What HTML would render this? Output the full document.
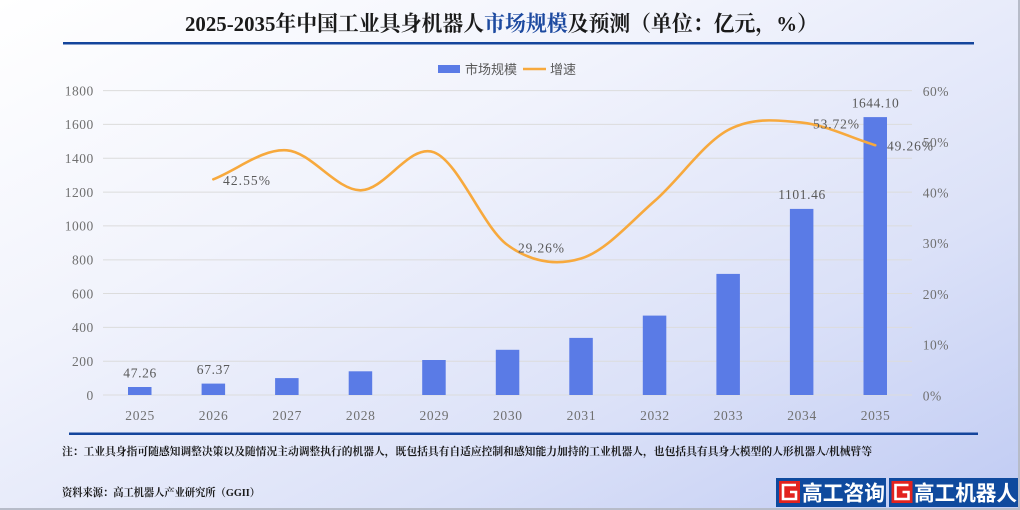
<!DOCTYPE html>
<html>
<head>
<meta charset="utf-8">
<style>
  html,body{margin:0;padding:0;}
  body{width:1020px;height:510px;overflow:hidden;}
  svg{display:block;}
</style>
</head>
<body>
<svg width="1020" height="510" viewBox="0 0 1020 510" xmlns="http://www.w3.org/2000/svg">
  <defs>
    <linearGradient id="bg" x1="0" y1="0" x2="1" y2="1">
      <stop offset="0" stop-color="#ffffff"/>
      <stop offset="0.35" stop-color="#f1f3fc"/>
      <stop offset="0.7" stop-color="#dbe1f8"/>
      <stop offset="1" stop-color="#c0cbf3"/>
    </linearGradient>
  </defs>
  <rect x="0" y="0" width="1020" height="510" fill="url(#bg)"/>
  <rect x="1018" y="0" width="2" height="510" fill="#b7bcc9"/>
  <rect x="0" y="508" width="1020" height="2" fill="#b7bcc9"/>

  <!-- Title -->
  <text x="185" y="31" textLength="633" lengthAdjust="spacingAndGlyphs" font-family="'Liberation Serif','Noto Serif CJK SC',serif" font-size="21.5" font-weight="700" fill="#1a1a1a">2025-2035年中国工业具身机器人<tspan fill="#1d4aa0">市场规模</tspan>及预测（单位：亿元，%）</text>
  <rect x="63" y="42" width="911" height="2.5" fill="#14459c"/>

  <!-- Legend -->
  <rect x="438" y="65" width="22" height="8" fill="#5a7be6"/>
  <text x="465" y="74" font-family="'Liberation Sans','Noto Sans CJK SC',sans-serif" font-size="13" fill="#595959">市场规模</text>
  <line x1="523" y1="69" x2="546" y2="69" stroke="#f7a93d" stroke-width="2.5"/>
  <text x="550" y="74" font-family="'Liberation Sans','Noto Sans CJK SC',sans-serif" font-size="13" fill="#595959">增速</text>

  <!-- Gridlines -->
  <g stroke="#dcdcdc" stroke-width="1">
    <line x1="103" y1="90.6" x2="912" y2="90.6"/>
    <line x1="103" y1="124.4" x2="912" y2="124.4"/>
    <line x1="103" y1="158.2" x2="912" y2="158.2"/>
    <line x1="103" y1="192.1" x2="912" y2="192.1"/>
    <line x1="103" y1="225.9" x2="912" y2="225.9"/>
    <line x1="103" y1="259.9" x2="912" y2="259.9"/>
    <line x1="103" y1="293.5" x2="912" y2="293.5"/>
    <line x1="103" y1="327.4" x2="912" y2="327.4"/>
    <line x1="103" y1="361.2" x2="912" y2="361.2"/>
    <line x1="103" y1="395" x2="912" y2="395"/>
  </g>

  <!-- Left axis labels -->
  <g font-family="'Liberation Serif',serif" font-size="13.5" letter-spacing="0.5" fill="#707070" text-anchor="end">
    <text x="93.8" y="95.4">1800</text>
    <text x="93.8" y="129.2">1600</text>
    <text x="93.8" y="163.0">1400</text>
    <text x="93.8" y="196.9">1200</text>
    <text x="93.8" y="230.7">1000</text>
    <text x="93.8" y="264.7">800</text>
    <text x="93.8" y="298.3">600</text>
    <text x="93.8" y="332.2">400</text>
    <text x="93.8" y="366.0">200</text>
    <text x="93.8" y="399.8">0</text>
  </g>

  <!-- Right axis labels -->
  <g font-family="'Liberation Serif',serif" font-size="13.5" letter-spacing="0.5" fill="#707070">
    <text x="922.7" y="95.9">60%</text>
    <text x="922.7" y="146.8">50%</text>
    <text x="922.7" y="197.5">40%</text>
    <text x="922.7" y="248.2">30%</text>
    <text x="922.7" y="299.0">20%</text>
    <text x="922.7" y="349.7">10%</text>
    <text x="922.7" y="400.4">0%</text>
  </g>

  <!-- Bars -->
  <g fill="#5a7be6">
    <rect x="128.0" y="387.0" width="23.5" height="8.0"/>
    <rect x="201.6" y="383.6" width="23.5" height="11.4"/>
    <rect x="275.1" y="378.1" width="23.5" height="16.9"/>
    <rect x="348.7" y="371.3" width="23.5" height="23.7"/>
    <rect x="422.2" y="360.0" width="23.5" height="35.0"/>
    <rect x="495.8" y="349.8" width="23.5" height="45.2"/>
    <rect x="569.3" y="337.9" width="23.5" height="57.1"/>
    <rect x="642.8" y="315.6" width="23.5" height="79.4"/>
    <rect x="716.4" y="273.9" width="23.5" height="121.1"/>
    <rect x="789.9" y="208.9" width="23.5" height="186.1"/>
    <rect x="863.5" y="117.1" width="23.5" height="277.9"/>
  </g>

  <!-- X labels -->
  <g font-family="'Liberation Serif',serif" font-size="13.5" fill="#707070" text-anchor="middle">
    <text x="139.8" y="420" textLength="29">2025</text>
    <text x="213.3" y="420" textLength="29">2026</text>
    <text x="286.9" y="420" textLength="29">2027</text>
    <text x="360.4" y="420" textLength="29">2028</text>
    <text x="434.0" y="420" textLength="29">2029</text>
    <text x="507.5" y="420" textLength="29">2030</text>
    <text x="581.1" y="420" textLength="29">2031</text>
    <text x="654.6" y="420" textLength="29">2032</text>
    <text x="728.1" y="420" textLength="29">2033</text>
    <text x="801.7" y="420" textLength="29">2034</text>
    <text x="875.2" y="420" textLength="29">2035</text>
  </g>

  <!-- Bar value labels -->
  <g font-family="'Liberation Serif',serif" font-size="13.5" fill="#595959" text-anchor="middle">
    <text x="139.8" y="377.5" textLength="33">47.26</text>
    <text x="213.3" y="374.2" textLength="33">67.37</text>
    <text x="801.7" y="199.2" textLength="47">1101.46</text>
    <text x="875.2" y="107.3" textLength="47">1644.10</text>
  </g>

  <!-- Growth line -->
  <path d="M 213.32 179.3
           C 237.83 169.63, 262.35 148.47, 286.86 150.3
           C 311.38 152.13, 335.90 189.97, 360.41 190.3
           C 384.93 190.63, 409.44 143.18, 433.95 152.3
           C 458.47 161.42, 482.99 227.3, 507.5 245.0
           C 532.02 262.7, 556.54 265.83, 581.05 258.5
           C 605.57 251.17, 630.08 222.42, 654.59 201.0
           C 679.11 179.58, 703.63 143.07, 728.14 130.0
           C 752.66 116.93, 777.17 120.07, 801.68 122.6
           C 826.20 125.13, 850.72 137.67, 875.23 145.2"
        fill="none" stroke="#f7a93d" stroke-width="2.6" stroke-linecap="round" stroke-linejoin="round"/>

  <!-- Line labels -->
  <g font-family="'Liberation Serif',serif" font-size="13.5" fill="#595959">
    <text x="223" y="185" textLength="47">42.55%</text>
    <text x="518" y="252.5" textLength="46">29.26%</text>
    <text x="813" y="128.3" textLength="46">53.72%</text>
    <text x="887" y="150.7" textLength="46">49.26%</text>
  </g>

  <!-- Bottom rule -->
  <rect x="69" y="432.5" width="909" height="2.5" fill="#14459c"/>

  <!-- Note -->
  <text x="62" y="454.8" textLength="810" lengthAdjust="spacingAndGlyphs" font-family="'Liberation Serif','Noto Serif CJK SC',serif" font-size="10.8" font-weight="700" fill="#1a1a1a">注：工业具身指可随感知调整决策以及随情况主动调整执行的机器人，既包括具有自适应控制和感知能力加持的工业机器人，也包括具有具身大模型的人形机器人/机械臂等</text>

  <!-- Source -->
  <text x="62" y="495.8" textLength="198" lengthAdjust="spacingAndGlyphs" font-family="'Liberation Serif','Noto Serif CJK SC',serif" font-size="10.8" font-weight="700" fill="#1a1a1a">资料来源：高工机器人产业研究所（GGII）</text>

  <!-- Logos -->
  <rect x="776" y="478" width="110" height="29" fill="#0f4a9e"/>
  <rect x="889" y="478" width="129" height="29" fill="#0f4a9e"/>
  <g>
    <rect x="779" y="481" width="21" height="22" fill="#e2231f"/>
    <path d="M 796 485 L 783 485 L 783 499 L 796 499 L 796 492 L 790 492" fill="none" stroke="#ffffff" stroke-width="2.6"/>
  </g>
  <g>
    <rect x="891.5" y="481" width="21" height="22" fill="#e2231f"/>
    <path d="M 908.5 485 L 895.5 485 L 895.5 499 L 908.5 499 L 908.5 492 L 902.5 492" fill="none" stroke="#ffffff" stroke-width="2.6"/>
  </g>
  <text x="802" y="500.5" textLength="83" lengthAdjust="spacingAndGlyphs" font-family="'Liberation Sans','Noto Sans CJK SC',sans-serif" font-size="21" font-weight="700" fill="#ffffff">高工咨询</text>
  <text x="914" y="500.5" textLength="103" lengthAdjust="spacingAndGlyphs" font-family="'Liberation Sans','Noto Sans CJK SC',sans-serif" font-size="21" font-weight="700" fill="#ffffff">高工机器人</text>
</svg>
</body>
</html>
